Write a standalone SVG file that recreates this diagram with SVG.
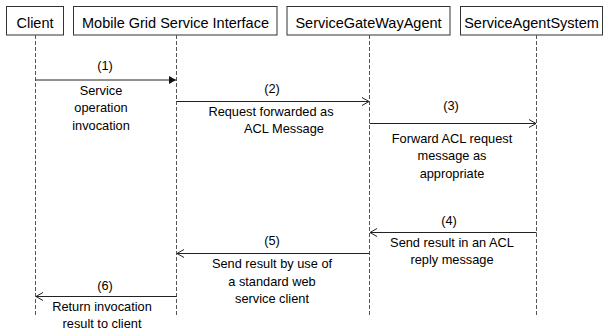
<svg xmlns="http://www.w3.org/2000/svg" width="607" height="332" viewBox="0 0 607 332">
  <style>
    .box { fill: #ffffff; stroke: #333333; stroke-width: 1; }
    .head { font-family: "Liberation Sans", Arial, sans-serif; font-size: 14.5px; fill: #000000; text-anchor: middle; }
    .life { stroke: #555555; stroke-width: 1; stroke-dasharray: 4 2; fill: none; }
    .msg { stroke: #222222; stroke-width: 1; fill: none; }
    .lbl { font-family: "Liberation Sans", Arial, sans-serif; font-size: 12.8px; fill: #000000; text-anchor: middle; }
  </style>
  <defs>
    <marker id="solid" markerWidth="8" markerHeight="8" refX="7" refY="4" orient="auto" markerUnits="userSpaceOnUse">
      <path d="M0,0 L7,4 L0,8 Z" fill="#111111"/>
    </marker>
    <marker id="open" markerWidth="10" markerHeight="10" refX="8" refY="5" orient="auto" markerUnits="userSpaceOnUse">
      <path d="M1,1 L8,5 L1,9" fill="none" stroke="#222222" stroke-width="1"/>
    </marker>
  </defs>

  <rect width="607" height="332" fill="#ffffff"/>

  <!-- participants with their lifelines -->
  <g id="client">
    <rect class="box" x="6.5" y="6.5" width="57" height="28.5"/>
    <text class="head" x="35" y="27.5">Client</text>
    <line class="life" x1="35.5" y1="35" x2="35.5" y2="316"/>
  </g>
  <g id="mobile-grid-service-interface">
    <rect class="box" x="73.5" y="6.5" width="203.5" height="28.5"/>
    <text class="head" x="175.5" y="27.5">Mobile Grid Service Interface</text>
    <line class="life" x1="176.5" y1="35" x2="176.5" y2="316"/>
  </g>
  <g id="service-gateway-agent">
    <rect class="box" x="287" y="6.5" width="163" height="28.5"/>
    <text class="head" x="368.5" y="27.5">ServiceGateWayAgent</text>
    <line class="life" x1="369.5" y1="35" x2="369.5" y2="316"/>
  </g>
  <g id="service-agent-system">
    <rect class="box" x="460.5" y="6.5" width="142" height="28.5"/>
    <text class="head" x="531.5" y="27.5">ServiceAgentSystem</text>
    <line class="life" x1="536.5" y1="35" x2="536.5" y2="316"/>
  </g>

  <!-- messages -->
  <g id="connectors">
    <line class="msg" x1="35.5" y1="80" x2="176" y2="80" stroke-width="1.5" marker-end="url(#solid)"/>
    <line class="msg" x1="176.5" y1="101.5" x2="369" y2="101.5" marker-end="url(#open)"/>
    <line class="msg" x1="369.5" y1="123.5" x2="536" y2="123.5" marker-end="url(#open)"/>
    <line class="msg" x1="536.5" y1="232.5" x2="370" y2="232.5" marker-end="url(#open)"/>
    <line class="msg" x1="369.5" y1="253.5" x2="177" y2="253.5" marker-end="url(#open)"/>
    <line class="msg" x1="176.5" y1="296.5" x2="36" y2="296.5" marker-end="url(#open)"/>
  </g>

  <!-- message labels -->
  <g id="labels">
    <text class="lbl" x="105" y="69.5">(1)</text>
    <text class="lbl" x="101" y="94.5">Service</text>
    <text class="lbl" x="101" y="112">operation</text>
    <text class="lbl" x="101" y="129.5">invocation</text>

    <text class="lbl" x="272" y="92.5">(2)</text>
    <text class="lbl" x="271" y="115.5">Request forwarded as</text>
    <text class="lbl" x="284" y="133">ACL Message</text>

    <text class="lbl" x="451" y="109.5">(3)</text>
    <text class="lbl" x="452" y="142.5">Forward ACL request</text>
    <text class="lbl" x="452" y="160">message as</text>
    <text class="lbl" x="452" y="177.5">appropriate</text>

    <text class="lbl" x="449" y="224.5">(4)</text>
    <text class="lbl" x="452" y="246.5">Send result in an ACL</text>
    <text class="lbl" x="452" y="264">reply message</text>

    <text class="lbl" x="272" y="244.5">(5)</text>
    <text class="lbl" x="272" y="268">Send result by use of</text>
    <text class="lbl" x="272" y="285.5">a standard web</text>
    <text class="lbl" x="272" y="303">service client</text>

    <text class="lbl" x="105" y="290">(6)</text>
    <text class="lbl" x="102" y="310.5">Return invocation</text>
    <text class="lbl" x="102" y="328">result to client</text>
  </g>
</svg>
